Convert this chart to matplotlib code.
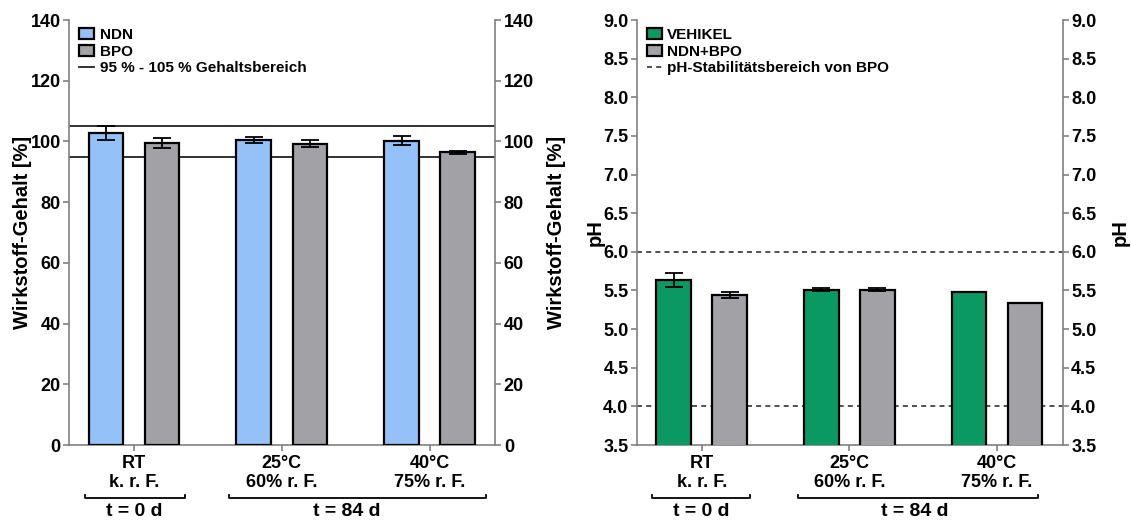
import matplotlib
matplotlib.use("Agg")
import matplotlib.pyplot as plt
import numpy as np

plt.rcParams["font.family"] = ["Liberation Sans", "DejaVu Sans"]
plt.rcParams["font.weight"] = "bold"
plt.rcParams["axes.labelweight"] = "bold"

# Conditions
categories = ["RT\nk. r. F.", "25°C\n60% r. F.", "40°C\n75% r. F."]
groups = ["t = 0 d", "t = 84 d"]

# Drug content [%]
ndn_content = [102.9, 100.5, 100.3]
ndn_err = [2.3, 0.9, 1.5]
bpo_content = [99.5, 99.3, 96.4]
bpo_err = [1.6, 1.2, 0.4]
content_limits = [95, 105]

# pH values
vehikel_ph = [5.64, 5.51, 5.48]
vehikel_err = [0.09, 0.02, 0.0]
ndn_bpo_ph = [5.44, 5.51, 5.34]
ndn_bpo_err = [0.04, 0.02, 0.0]
ph_limits = [4.0, 6.0]

c_ndn = "#94C1F7"
c_grey = "#A2A1A6"
c_green = "#0B9963"
spine_col = "#808080"

fig = plt.figure(figsize=(11.31, 5.2), dpi=100)
ax1 = fig.add_axes([0.0610, 0.1442, 0.3771, 0.8173])
ax2 = fig.add_axes([0.5630, 0.1442, 0.3767, 0.8173])

x = np.arange(len(categories))
off = 0.19
w = 0.235
fs = 13
lfs = 14.5


def style_axes(ax, ylim, ticks, fmt, label, pad_left, pad_right):
    ax.set_xlim(-0.44, 2.445)
    ax.set_ylim(*ylim)
    ax.set_yticks(ticks)
    ax.set_yticklabels([fmt.format(t) for t in ticks], fontsize=fs, fontweight="bold")
    ax.set_xticks(x)
    ax.set_xticklabels(categories, fontsize=fs, fontweight="bold", linespacing=1.15)
    ax.spines["top"].set_visible(False)
    for s in ["left", "right", "bottom"]:
        ax.spines[s].set_color(spine_col)
        ax.spines[s].set_linewidth(1.2)
    ax.tick_params(axis="both", color=spine_col, length=4, width=1.2, pad=2)
    ax.tick_params(axis="x", pad=3)
    ax.set_ylabel(label, fontsize=lfs, fontweight="bold", labelpad=pad_left)
    twin = ax.twinx()
    twin.set_ylim(*ylim)
    twin.set_yticks(ticks)
    twin.set_yticklabels([fmt.format(t) for t in ticks], fontsize=fs, fontweight="bold")
    twin.tick_params(axis="y", color=spine_col, length=4, width=1.2, pad=2)
    for s in twin.spines.values():
        s.set_visible(False)
    twin.set_ylabel(label, fontsize=lfs, fontweight="bold", labelpad=pad_right)


def brackets(ax, spans, centers):
    trans = ax.get_xaxis_transform()
    for (a, b), c, g in zip(spans, centers, groups):
        ax.plot([a, a, b, b], [-0.118, -0.125, -0.125, -0.118], color="black",
                lw=1.3, transform=trans, clip_on=False)
        ax.text(c, -0.156, g, transform=trans, ha="center", va="center",
                fontsize=14, fontweight="bold")


err_kw = dict(ecolor="black", elinewidth=1.3, capsize=6.5, capthick=1.3)

# Left panel: drug content
ax1.bar(x - off, ndn_content, w, yerr=ndn_err, color=c_ndn, edgecolor="black",
        linewidth=1.6, error_kw=err_kw, label="NDN", zorder=3)
ax1.bar(x + off, bpo_content, w, yerr=bpo_err, color=c_grey, edgecolor="black",
        linewidth=1.6, error_kw=err_kw, label="BPO", zorder=3)
for i, v in enumerate(content_limits):
    ax1.axhline(v, color="#222222", lw=1.3, zorder=2,
                label="95 % - 105 % Gehaltsbereich" if i == 0 else None)
style_axes(ax1, (0, 140), np.arange(0, 141, 20), "{:.0f}", "Wirkstoff-Gehalt [%]",
           -1, 9)
brackets(ax1, [(-0.33, 0.345), (0.642, 2.378)], [0.0, 1.44])

# Right panel: pH
ax2.bar(x - off, vehikel_ph, w, yerr=vehikel_err, color=c_green, edgecolor="black",
        linewidth=1.6, error_kw=err_kw, label="VEHIKEL", zorder=3)
ax2.bar(x + off, ndn_bpo_ph, w, yerr=ndn_bpo_err, color=c_grey, edgecolor="black",
        linewidth=1.6, error_kw=err_kw, label="NDN+BPO", zorder=3)
for i, v in enumerate(ph_limits):
    ax2.axhline(v, color="#333333", lw=1.2, ls=(0, (3, 2.5)), zorder=2,
                label="pH-Stabilitätsbereich von BPO" if i == 0 else None)
style_axes(ax2, (3.5, 9.0), np.arange(3.5, 9.01, 0.5), "{:.1f}", "pH", -1, 10)
brackets(ax2, [(-0.336, 0.329), (0.654, 2.275)], [0.0, 1.44])

for ax in (ax1, ax2):
    handles, labels = ax.get_legend_handles_labels()
    order = [1, 2, 0]
    ax.legend([handles[i] for i in order], [labels[i] for i in order],
              loc="upper left", bbox_to_anchor=(0.0, 1.005), frameon=False,
              prop={"size": 11, "weight": "bold"}, handlelength=1.0,
              handleheight=0.75, handletextpad=0.35, labelspacing=0.18,
              borderaxespad=0.25)

fig.savefig("out.png", dpi=100)
